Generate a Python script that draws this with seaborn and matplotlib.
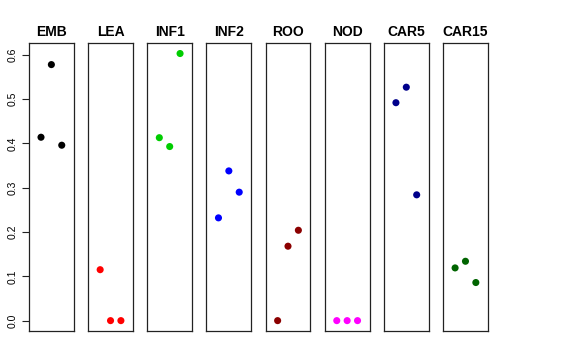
import matplotlib
matplotlib.use("Agg")
import matplotlib.pyplot as plt
import seaborn as sns
import pandas as pd

tissues = ["EMB", "LEA", "INF1", "INF2", "ROO", "NOD", "CAR5", "CAR15"]
colors = ["#000000", "#FF0000", "#00CD00", "#0000FF", "#8B0000", "#FF00FF", "#00008B", "#006400"]
replicates = [1, 2, 3]
emb = [0.414, 0.578, 0.396]
lea = [0.115, 0.0, 0.0]
inf1 = [0.413, 0.393, 0.603]
inf2 = [0.232, 0.338, 0.290]
roo = [0.0, 0.168, 0.204]
nod = [0.0, 0.0, 0.0]
car5 = [0.492, 0.527, 0.284]
car15 = [0.119, 0.134, 0.086]
values = [emb, lea, inf1, inf2, roo, nod, car5, car15]
yticks = [0.0, 0.1, 0.2, 0.3, 0.4, 0.5, 0.6]

sns.set_theme(style="white")
plt.rcParams["font.family"] = ["Liberation Sans", "DejaVu Sans"]
plt.rcParams["text.color"] = "black"
plt.rcParams["ytick.color"] = "black"

fig, axes = plt.subplots(1, 8, figsize=(5.76, 3.6), dpi=100, sharey=True)
fig.subplots_adjust(left=0.0503, right=0.847, top=0.881, bottom=0.0797, wspace=0.32)

ymax = max(max(v) for v in values)
pad = 0.04 * ymax
for ax, name, col, vals in zip(axes, tissues, colors, values):
    df = pd.DataFrame({"rep": replicates, "value": vals})
    sns.scatterplot(data=df, x="rep", y="value", ax=ax, color=col, s=26,
                    edgecolor="none", linewidth=0)
    ax.set_xlim(-0.16, 4.16)
    ax.set_ylim(-pad, ymax + pad)
    ax.set_xticks([])
    ax.set_xlabel("")
    ax.set_ylabel("")
    ax.set_title(name, fontsize=10, fontweight="bold", pad=5, color="black")
    for s in ax.spines.values():
        s.set_visible(True)
        s.set_color("#222222")
        s.set_linewidth(0.9)

axes[0].set_yticks(yticks)
axes[0].set_yticklabels([f"{t:.1f}" for t in yticks], rotation=90, va="center", fontsize=7.5)
axes[0].tick_params(axis="y", left=True, length=5, width=0.8, color="#222222", pad=3,
                    labelcolor="black")
for ax in axes[1:]:
    ax.tick_params(axis="y", left=False, labelleft=False)

fig.savefig("out.png", dpi=100)
